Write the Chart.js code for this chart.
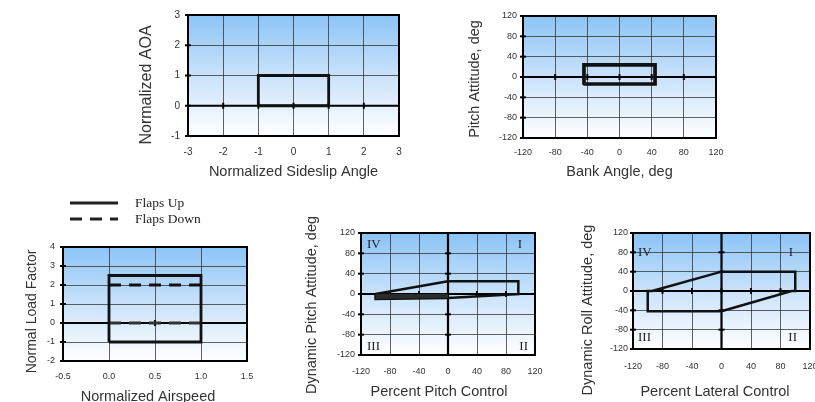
<!DOCTYPE html>
<html><head><meta charset="utf-8">
<script src="https://cdn.jsdelivr.net/npm/chart.js@4.4.0/dist/chart.umd.min.js"></script>
<style>
html,body{margin:0;padding:0;background:#fff;overflow:hidden;width:815px;height:402px;position:relative;}
canvas{position:absolute;}
</style></head><body>
<canvas id="c1"></canvas><canvas id="c2"></canvas><canvas id="c3"></canvas><canvas id="c4"></canvas><canvas id="c5"></canvas>
<script>
// ---------- DATA ----------
// Chart 1: Normalized AOA vs Normalized Sideslip Angle
const sideslipTicks = [-3, -2, -1, 0, 1, 2, 3];
const aoaTicks = [-1, 0, 1, 2, 3];
const envSideslipX = [-1, 1, 1, -1, -1];
const envAoaY = [0, 0, 1, 1, 0];

// Chart 2: Pitch Attitude vs Bank Angle
const bankTicks = [-120, -80, -40, 0, 40, 80, 120];
const pitchTicks = [-120, -80, -40, 0, 40, 80, 120];
const envBankOuterX = [-45, 45, 45, -45, -45];
const envPitchOuterY = [-15, -15, 25, 25, -15];
const envBankInnerX = [-43, 43, 43, -43, -43];
const envPitchInnerY = [-12, -12, 22, 22, -12];

// Chart 3: Normal Load Factor vs Normalized Airspeed
const airspeedTicks = [-0.5, 0, 0.5, 1, 1.5];
const loadTicks = [-2, -1, 0, 1, 2, 3, 4];
const seriesNames = ['Flaps Up', 'Flaps Down'];
const flapsUpX = [0, 1, 1, 0, 0];
const flapsUpY = [-1, -1, 2.5, 2.5, -1];
const flapsDownTopX = [0, 1];
const flapsDownTopY = [2, 2];
const flapsDownBotX = [0, 1];
const flapsDownBotY = [0, 0];

// Chart 4: Dynamic Pitch Attitude vs Percent Pitch Control
const pitchCtrlTicks = [-120, -80, -40, 0, 40, 80, 120];
const dynPitchTicks = [-120, -80, -40, 0, 40, 80, 120];
const pitchEnvX = [-100, 0, 97, 97, 0, -100, -100];
const pitchEnvY = [0, 25, 25, 0, -8, -10, 0];
const pitchBandX = [-100, 0];
const pitchBandY = [-10, -8];

// Chart 5: Dynamic Roll Attitude vs Percent Lateral Control
const latCtrlTicks = [-120, -80, -40, 0, 40, 80, 120];
const dynRollTicks = [-120, -80, -40, 0, 40, 80, 120];
const rollEnvX = [-94, 0, 100, 100, 95, 0, -100, -100, -94];
const rollEnvY = [0, 40, 40, 0, 0, -42, -42, 0, 0];

const quadrantNames = ['I', 'II', 'III', 'IV'];

// ---------- HELPERS ----------
const pts = (xs, ys) => xs.map((x, i) => ({x: x, y: ys[i]}));
const SANS = "'Liberation Sans', Arial, sans-serif";
const SERIF = "'Liberation Serif', 'Times New Roman', serif";

const deco = {
  id: 'deco',
  beforeDraw(chart) {
    const {ctx, chartArea: a} = chart;
    const g = ctx.createLinearGradient(0, a.top, 0, a.bottom);
    g.addColorStop(0, '#8cc4f7');
    g.addColorStop(0.55, '#cfe5fb');
    g.addColorStop(1, '#ffffff');
    ctx.save(); ctx.fillStyle = g; ctx.fillRect(a.left, a.top, a.width, a.height); ctx.restore();
  },
  beforeDatasetsDraw(chart, args, o) {
    const {ctx, chartArea: a, scales: {x, y}} = chart;
    ctx.save();
    ctx.strokeStyle = '#000';
    const ln = (x1, y1, x2, y2, w) => { ctx.lineWidth = w; ctx.beginPath(); ctx.moveTo(x1, y1); ctx.lineTo(x2, y2); ctx.stroke(); };
    const y0 = y.getPixelForValue(0);
    ln(a.left, y0, a.right, y0, 2.2);
    x.ticks.forEach(t => { const p = x.getPixelForValue(t.value); if (p > a.left + 2 && p < a.right - 2) ln(p, y0 - 3, p, y0 + 3, 2); });
    y.ticks.forEach(t => { const p = y.getPixelForValue(t.value); ln(a.left - 3, p, a.left + 3, p, 2); });
    if (o.zeroX) {
      const x0 = x.getPixelForValue(0);
      ln(x0, a.top, x0, a.bottom, 2.2);
      y.ticks.forEach(t => { const p = y.getPixelForValue(t.value); if (p > a.top + 2 && p < a.bottom - 2) ln(x0 - 3, p, x0 + 3, p, 2); });
    }
    ctx.restore();
  },
  afterDraw(chart, args, o) {
    const {ctx, chartArea: a} = chart;
    ctx.save();
    ctx.strokeStyle = '#000'; ctx.lineWidth = 2;
    ctx.strokeRect(a.left, a.top, a.width, a.height);
    ctx.fillStyle = '#333';
    ctx.textAlign = 'center'; ctx.textBaseline = 'middle';
    // x title
    ctx.font = o.xTitleSize + 'px ' + SANS;
    ctx.fillText(o.xTitle, (a.left + a.right) / 2 + o.xTitleDx, a.bottom + o.xTitleDy);
    // y title
    ctx.save();
    ctx.translate(a.left - o.yTitleDx, (a.top + a.bottom) / 2 + o.yTitleDy);
    ctx.rotate(-Math.PI / 2);
    ctx.font = o.yTitleSize + 'px ' + SANS;
    ctx.fillText(o.yTitle, 0, 0);
    ctx.restore();
    // quadrant labels
    if (o.quad) {
      const q = o.quad;
      ctx.font = '13px ' + SERIF; ctx.fillStyle = '#222';
      ctx.textAlign = 'left';
      ctx.fillText(quadrantNames[3], a.left + q.l, a.top + q.t);
      ctx.fillText(quadrantNames[2], a.left + q.l, a.bottom - q.b);
      ctx.textAlign = 'right';
      ctx.fillText(quadrantNames[0], a.right - q.r1, a.top + q.t);
      ctx.fillText(quadrantNames[1], a.right - q.r2, a.bottom - q.b);
    }
    // legend
    if (o.legend) {
      const L = o.legend;
      ctx.font = '13.5px ' + SERIF; ctx.fillStyle = '#222'; ctx.textAlign = 'left';
      seriesNames.forEach((name, i) => {
        const yy = a.top - L.top + i * L.gap;
        ctx.strokeStyle = '#222'; ctx.lineWidth = 3;
        ctx.setLineDash(i === 0 ? [] : [12, 8]);
        ctx.beginPath(); ctx.moveTo(a.left + L.x1, yy); ctx.lineTo(a.left + L.x2, yy); ctx.stroke();
        ctx.setLineDash([]);
        ctx.fillText(name, a.left + L.tx, yy);
      });
    }
    ctx.restore();
  }
};

function makePlot(c) {
  const cv = document.getElementById(c.id);
  const W = c.yAxisW + (c.plot.r - c.plot.l) + c.padRight;
  const H = c.padTop + (c.plot.b - c.plot.t) + c.xAxisH;
  cv.width = W; cv.height = H;
  cv.style.left = (c.plot.l - c.yAxisW) + 'px';
  cv.style.top = (c.plot.t - c.padTop) + 'px';
  cv.style.width = W + 'px'; cv.style.height = H + 'px';
  const grid = {color: 'rgba(45,45,45,0.75)', lineWidth: 1, drawTicks: false};
  new Chart(cv, {
    type: 'line',
    data: {datasets: c.datasets},
    plugins: [deco],
    options: {
      responsive: false, animation: false, devicePixelRatio: 1,
      layout: {padding: {top: c.padTop, right: c.padRight, left: 0, bottom: 0}},
      elements: {point: {radius: 0, hoverRadius: 0}, line: {tension: 0}},
      plugins: {legend: {display: false}, tooltip: {enabled: false}, deco: c.deco},
      scales: {
        x: {
          type: 'linear', min: c.xTicks[0], max: c.xTicks[c.xTicks.length - 1],
          afterBuildTicks: s => { s.ticks = c.xTicks.map(v => ({value: v})); },
          afterFit: s => { s.height = c.xAxisH; },
          grid: grid, border: {display: false},
          ticks: {autoSkip: false, maxRotation: 0, padding: c.xTickPad, color: '#333',
                  font: {family: SANS, size: c.tickSize}, callback: c.xFmt || (v => String(v))}
        },
        y: {
          type: 'linear', min: c.yTicks[0], max: c.yTicks[c.yTicks.length - 1],
          afterBuildTicks: s => { s.ticks = c.yTicks.map(v => ({value: v})); },
          afterFit: s => { s.width = c.yAxisW; },
          grid: grid, border: {display: false},
          ticks: {autoSkip: false, padding: c.yTickPad, color: '#333',
                  font: {family: SANS, size: c.tickSize}, callback: v => String(v)}
        }
      }
    }
  });
}

const solid = (data, w) => ({data: data, borderColor: '#111', borderWidth: w || 2.5, fill: false});

makePlot({
  id: 'c1', plot: {l: 188, t: 15, r: 399, b: 136}, yAxisW: 58, padTop: 24, padRight: 30, xAxisH: 50,
  xTicks: sideslipTicks, yTicks: aoaTicks, tickSize: 10, xTickPad: 10, yTickPad: 8,
  datasets: [solid(pts(envSideslipX, envAoaY), 2.8)],
  deco: {xTitle: 'Normalized Sideslip Angle', xTitleSize: 14.5, xTitleDx: 0, xTitleDy: 36,
         yTitle: 'Normalized AOA', yTitleSize: 16, yTitleDx: 41, yTitleDy: 9.5}
});

makePlot({
  id: 'c2', plot: {l: 523, t: 16, r: 716, b: 138}, yAxisW: 63, padTop: 24, padRight: 30, xAxisH: 50,
  xTicks: bankTicks, yTicks: pitchTicks, tickSize: 9, xTickPad: 9, yTickPad: 6,
  datasets: [solid(pts(envBankOuterX, envPitchOuterY), 2.4), solid(pts(envBankInnerX, envPitchInnerY), 1.8)],
  deco: {xTitle: 'Bank Angle, deg', xTitleSize: 14.5, xTitleDx: 0, xTitleDy: 34,
         yTitle: 'Pitch Attitude, deg', yTitleSize: 14.5, yTitleDx: 48, yTitleDy: 2}
});

makePlot({
  id: 'c3', plot: {l: 63, t: 247, r: 247, b: 361}, yAxisW: 53, padTop: 62, padRight: 30, xAxisH: 41,
  xTicks: airspeedTicks, yTicks: loadTicks, tickSize: 9, xTickPad: 10, yTickPad: 8,
  xFmt: v => Number(v).toFixed(1),
  datasets: [
    solid(pts(flapsUpX, flapsUpY), 2.8),
    Object.assign(solid(pts(flapsDownTopX, flapsDownTopY), 3), {borderDash: [12, 8]}),
    Object.assign(solid(pts(flapsDownBotX, flapsDownBotY), 3), {borderDash: [12, 8], borderColor: '#333'})
  ],
  deco: {xTitle: 'Normalized Airspeed', xTitleSize: 14.5, xTitleDx: -7, xTitleDy: 36,
         yTitle: 'Normal Load Factor', yTitleSize: 14, yTitleDx: 31, yTitleDy: 7.5,
         legend: {top: 44, gap: 16, x1: 7, x2: 55, tx: 72}}
});

makePlot({
  id: 'c4', plot: {l: 361, t: 233, r: 535, b: 355}, yAxisW: 66, padTop: 23, padRight: 30, xAxisH: 47,
  xTicks: pitchCtrlTicks, yTicks: dynPitchTicks, tickSize: 9, xTickPad: 11.5, yTickPad: 6,
  datasets: [
    {data: pts(pitchBandX, pitchBandY), borderWidth: 0, borderColor: 'rgba(0,0,0,0)', backgroundColor: '#2b2b2b', fill: 'origin'},
    solid(pts(pitchEnvX, pitchEnvY), 2.5)
  ],
  deco: {zeroX: true, xTitle: 'Percent Pitch Control', xTitleSize: 14.5, xTitleDx: -9, xTitleDy: 37,
         yTitle: 'Dynamic Pitch Attitude, deg', yTitleSize: 14.5, yTitleDx: 49, yTitleDy: 11,
         quad: {l: 6, t: 12, r1: 13, r2: 7, b: 8}}
});

makePlot({
  id: 'c5', plot: {l: 633, t: 233, r: 810, b: 349}, yAxisW: 63, padTop: 23, padRight: 30, xAxisH: 53,
  xTicks: latCtrlTicks, yTicks: dynRollTicks, tickSize: 9, xTickPad: 12.5, yTickPad: 5,
  datasets: [solid(pts(rollEnvX, rollEnvY), 2.5)],
  deco: {zeroX: true, xTitle: 'Percent Lateral Control', xTitleSize: 14.5, xTitleDx: -6.5, xTitleDy: 43,
         yTitle: 'Dynamic Roll Attitude, deg', yTitleSize: 14.5, yTitleDx: 45, yTitleDy: 19,
         quad: {l: 5, t: 20, r1: 17, r2: 13, b: 11}}
});
</script>
</body></html>
